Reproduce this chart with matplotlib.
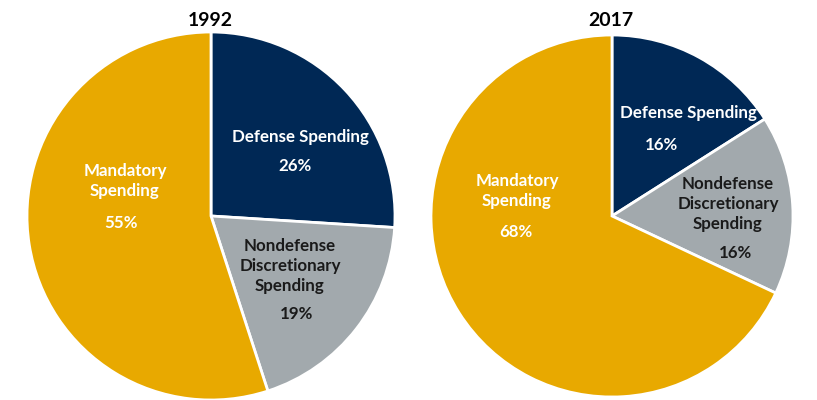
import matplotlib.pyplot as plt

# Budget shares by category (percent of total outlays)
categories = ['Defense Spending', 'Nondefense\nDiscretionary\nSpending', 'Mandatory\nSpending']
years = ['1992', '2017']
shares_1992 = [26, 19, 55]
shares_2017 = [16, 16, 68]

colors = ['#002855', '#A2A9AD', '#E8A900']
text_colors = ['white', '#1a1a1a', 'white']

plt.rcParams['font.family'] = ['Lato', 'DejaVu Sans']

# Figure in pixel units so pies and labels can be placed directly
fig = plt.figure(figsize=(8.17, 4.0), dpi=100)
ax = fig.add_axes([0, 0, 1, 1])

# pie centre (x, y from top) and radius
pies = [
    {'center': (211, 216), 'radius': 184, 'title_xy': (210, 20)},
    {'center': (612, 216), 'radius': 181, 'title_xy': (611, 20)},
]

# label anchors (name position, value position), y measured from the top
label_pos = [
    [((300, 137), (295, 166)), ((290, 266), (297, 314)), ((125, 181), (121, 223))],
    [((688, 113), (662, 145)), ((728, 204), (736, 253)), ((517, 191), (516, 232))],
]

for shares, year, p, lp in zip([shares_1992, shares_2017], years, pies, label_pos):
    cx, cy = p['center']
    ax.pie(shares, colors=colors, startangle=90, counterclock=False,
           center=(cx, 400 - cy), radius=p['radius'], frame=True,
           wedgeprops=dict(edgecolor='white', linewidth=2))
    tx, ty = p['title_xy']
    ax.text(tx, 400 - ty, year, ha='center', va='center',
            fontsize=14, fontweight='bold', color='black')
    for name, val, (npos, vpos), tc in zip(categories, shares, lp, text_colors):
        ax.text(npos[0], 400 - npos[1], name, ha='center', va='center',
                fontsize=12.2, fontweight='bold', color=tc, linespacing=1.3)
        ax.text(vpos[0], 400 - vpos[1], f'{val}%', ha='center', va='center',
                fontsize=12.2, fontweight='bold', color=tc)

ax.set_xlim(0, 817)
ax.set_ylim(0, 400)
ax.set_aspect('equal')
ax.axis('off')

fig.savefig('out.png', dpi=100)
